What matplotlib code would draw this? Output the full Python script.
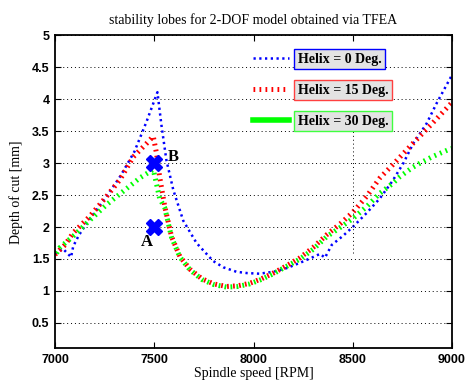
import matplotlib.pyplot as plt

# Stability lobe boundaries, depth of cut [mm] vs spindle speed [RPM]
rpm_h0 = [7000, 7040, 7081, 7092, 7120, 7160, 7210, 7260, 7330, 7400, 7460, 7516,
          7536, 7561, 7596, 7646, 7713, 7796, 7848, 7914, 7966, 8030, 8100, 8170,
          8234, 8300, 8335, 8360, 8394, 8450, 8503, 8570, 8637, 8700, 8755, 8805,
          8872, 8923, 9000]
depth_h0 = [1.58, 1.66, 1.53, 1.70, 1.87, 2.06, 2.27, 2.48, 2.80, 3.18, 3.64, 4.11,
            3.60, 3.05, 2.58, 2.10, 1.75, 1.47, 1.37, 1.30, 1.28, 1.27, 1.30, 1.36,
            1.44, 1.53, 1.58, 1.52, 1.72, 1.86, 2.01, 2.22, 2.45, 2.72, 3.00, 3.31,
            3.62, 3.94, 4.38]

rpm_h15 = [7000, 7050, 7092, 7176, 7260, 7327, 7395, 7462, 7495, 7511, 7527, 7553,
           7587, 7629, 7680, 7740, 7800, 7864, 7920, 7981, 8040, 8100, 8170, 8234,
           8300, 8369, 8440, 8503, 8570, 8637, 8700, 8800, 8900, 9000]
depth_h15 = [1.57, 1.72, 1.91, 2.17, 2.48, 2.74, 3.10, 3.31, 3.42, 3.16, 2.79, 2.32,
             1.85, 1.54, 1.34, 1.19, 1.11, 1.07, 1.08, 1.12, 1.19, 1.28, 1.40, 1.52,
             1.68, 1.88, 2.06, 2.24, 2.48, 2.77, 2.97, 3.30, 3.62, 3.95]

rpm_h30 = [7000, 7025, 7100, 7176, 7260, 7344, 7428, 7495, 7511, 7527, 7553, 7587,
           7629, 7680, 7740, 7800, 7864, 7920, 7981, 8040, 8100, 8170, 8234, 8300,
           8369, 8440, 8503, 8570, 8637, 8700, 8738, 8800, 8839, 8900, 8981, 9000]
depth_h30 = [1.55, 1.68, 1.88, 2.11, 2.35, 2.56, 2.77, 2.90, 2.68, 2.45, 2.30, 1.84,
             1.53, 1.33, 1.18, 1.10, 1.06, 1.07, 1.11, 1.18, 1.27, 1.39, 1.50, 1.65,
             1.85, 2.00, 2.14, 2.32, 2.53, 2.68, 2.79, 2.93, 3.00, 3.10, 3.21, 3.23]

series_labels = ["Helix = 0 Deg.", "Helix = 15 Deg.", "Helix = 30 Deg."]

# test points A and B at 7500 RPM
point_rpm = [7500, 7500]
point_depth = [2.0, 3.0]
point_names = ["A", "B"]

xticks = [7000, 7500, 8000, 8500, 9000]
yticks = [0.5, 1, 1.5, 2, 2.5, 3, 3.5, 4, 4.5, 5]
ytick_labels = ["0.5", "1", "1.5", "2", "2.5", "3", "3.5", "4", "4.5", "5"]

serif = "Liberation Serif"

fig = plt.figure(figsize=(4.66, 3.80), dpi=100)
ax = fig.add_axes([0.118, 0.083, 0.852, 0.824])

ax.plot(rpm_h0, depth_h0, color="#0000ff", lw=1.8, linestyle=(0, (0.9, 1.4)),
        label=series_labels[0])
ax.plot(rpm_h15, depth_h15, color="#ff0000", lw=3.6, linestyle=(0, (0.35, 0.85)),
        label=series_labels[1])
ax.plot(rpm_h30, depth_h30, color="#00ff00", lw=3.6, linestyle=(0.6, (0.35, 0.85)),
        label=series_labels[2])

ax.plot(point_rpm, point_depth, linestyle="none", marker="X", markersize=11,
        color="#0000ff", markeredgecolor="#0000ff")
ax.text(7594, 3.10, point_names[1], fontfamily=serif, fontweight="bold",
        fontsize=12, ha="center", va="center")
ax.text(7463, 1.77, point_names[0], fontfamily=serif, fontweight="bold",
        fontsize=12, ha="center", va="center")

ax.set_xlim(7000, 9000)
ax.set_ylim(0.1, 5)
ax.set_xticks(xticks)
ax.set_yticks(yticks)
ax.set_yticklabels(ytick_labels)
for lab in ax.get_xticklabels() + ax.get_yticklabels():
    lab.set_fontfamily("Liberation Sans")
    lab.set_fontweight("bold")
    lab.set_fontsize(9)
ax.tick_params(direction="in", top=True, right=True, length=4, width=0.8, pad=4)
for sp in ax.spines.values():
    sp.set_linewidth(1.3)

ax.yaxis.grid(True, linestyle=(0, (1, 3)), color="black", lw=0.7)
ax.vlines(8500, 1.6, 3.5, colors="black", linestyles=(0, (1, 3)), lw=0.7)

ax.set_title("stability lobes for 2-DOF model obtained via TFEA",
             fontfamily=serif, fontsize=10, pad=8)
ax.set_xlabel("Spindle speed [RPM]", fontfamily=serif, fontsize=10, labelpad=1)
ax.set_ylabel("Depth of cut [mm]", fontfamily=serif, fontsize=10, labelpad=6)

leg = ax.legend(loc="upper left", bbox_to_anchor=(0.468, 0.985), frameon=False,
                prop={"family": serif, "weight": "bold", "size": 10},
                handlelength=2.6, handletextpad=0.6, labelspacing=1.3)
box_edges = ["#0000ff", "#ff4040", "#40ff40"]
for txt, ec in zip(leg.get_texts(), box_edges):
    txt.set_bbox(dict(facecolor="#e3e3e3", edgecolor=ec, lw=1.0,
                      boxstyle="square,pad=0.25"))
green_handle = leg.get_lines()[2]
green_handle.set_linestyle("-")
green_handle.set_linewidth(4)

fig.savefig("out.png", dpi=100)
